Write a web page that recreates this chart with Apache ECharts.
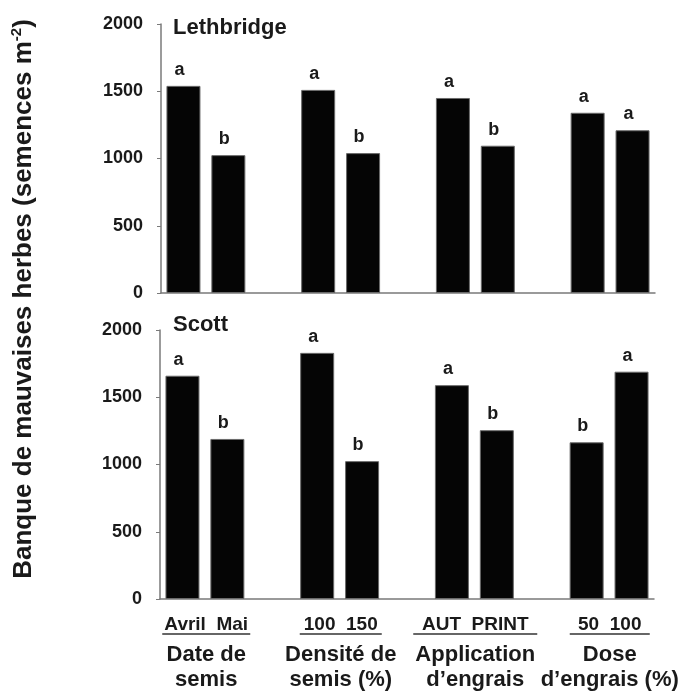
<!DOCTYPE html>
<html>
<head>
<meta charset="utf-8">
<script src="https://cdn.jsdelivr.net/npm/echarts@6/dist/echarts.min.js"></script>
<style>
html,body{margin:0;padding:0;background:#fff;}
#c{width:694px;height:692px;}
</style>
</head>
<body>
<div id="c"></div>
<script>
// ---- data ----
const pairs = [['Avril', 'Mai'], ['100', '150'], ['AUT', 'PRINT'], ['50', '100']];
const groups = [['Date de', 'semis'], ['Densité de', 'semis (%)'], ['Application', 'd’engrais'], ['Dose', 'd’engrais (%)']];
const lethbridgeValues = [1540, 1025, 1510, 1040, 1450, 1095, 1340, 1210];
const lethbridgeLetters = ['a', 'b', 'a', 'b', 'a', 'b', 'a', 'a'];
const scottValues = [1660, 1190, 1830, 1025, 1590, 1255, 1165, 1690];
const scottLetters = ['a', 'b', 'a', 'b', 'a', 'b', 'b', 'a'];
const panelTitles = ['Lethbridge', 'Scott'];
const yMin = 0, yMax = 2000, yStep = 500;
const yTitle = 'Banque de mauvaises herbes (semences m';
const yTitleSup = '-2';

// ---- build slot layout: two bars per group, a blank slot between groups ----
const slots = [];
const slotBar = [];
pairs.forEach((p, i) => {
  slots.push(p[0] + '#' + i, p[1] + '#' + i);
  slotBar.push(i * 2, i * 2 + 1);
  if (i < pairs.length - 1) { slots.push('gap' + i); slotBar.push(-1); }
});
function slotData(vals) {
  return slotBar.map(b => (b < 0 ? '-' : vals[b]));
}

const font = 'Liberation Sans, Arial, Helvetica, sans-serif';
const txt = '#1a1a1a';
const axisCol = '#7a7a7a';

const chart = echarts.init(document.getElementById('c'), null, { renderer: 'canvas' });

const underlineW = [88, 82, 124, 80];
const rich = {
  t: { fontFamily: font, fontWeight: 'bold', fontSize: 19, lineHeight: 16, color: txt },
  sp: { fontSize: 1, lineHeight: 7 },
  g: { fontFamily: font, fontWeight: 'bold', fontSize: 22, lineHeight: 25, color: txt }
};
underlineW.forEach((w, i) => {
  rich['u' + i] = { width: w, height: 1.5, lineHeight: 2, backgroundColor: '#333', fontSize: 1 };
});

function barGrid(idx) {
  return {
    type: 'bar',
    xAxisIndex: idx, yAxisIndex: idx,
    data: slotData(idx === 0 ? lethbridgeValues : scottValues),
    barWidth: 34,
    itemStyle: { color: '#050505', borderColor: '#6a6a6a', borderWidth: 1 },
    label: {
      show: true, position: 'top', distance: 7, offset: [-4, 0],
      fontFamily: font, fontWeight: 'bold', fontSize: 18, color: txt,
      formatter: p => {
        const b = slotBar[p.dataIndex];
        return b < 0 ? '' : (idx === 0 ? lethbridgeLetters : scottLetters)[b];
      }
    },
    silent: true,
    animation: false
  };
}

function yAx(idx) {
  return {
    gridIndex: idx, type: 'value', min: yMin, max: yMax, interval: yStep,
    axisLine: { show: true, lineStyle: { color: axisCol, width: 1.5 } },
    axisTick: { show: true, length: 4, lineStyle: { color: axisCol } },
    axisLabel: { fontFamily: font, fontWeight: 'bold', fontSize: 18, color: txt, margin: 18, formatter: v => String(v) },
    splitLine: { show: false }
  };
}
function xAx(idx) {
  return {
    gridIndex: idx, type: 'category', data: slots,
    axisLine: { show: true, lineStyle: { color: axisCol, width: 1.5 } },
    axisTick: { show: false }, axisLabel: { show: false }
  };
}

const option = {
  backgroundColor: '#fff',
  animation: false,
  title: [
    { text: panelTitles[0], left: 173, top: 17, padding: 0, textStyle: { fontFamily: font, fontWeight: 'bold', fontSize: 22, color: txt } },
    { text: panelTitles[1], left: 173, top: 314, padding: 0, textStyle: { fontFamily: font, fontWeight: 'bold', fontSize: 22, color: txt } }
  ],
  grid: [
    { left: 161, top: 24, width: 494, height: 269 },
    { left: 160, top: 330, width: 494, height: 269 },
    { left: 139, width: 538, top: 500, height: 110 }
  ],
  xAxis: [
    xAx(0), xAx(1),
    {
      gridIndex: 2, type: 'category', data: groups.map(g => g.join(' ')),
      axisLine: { show: false }, axisTick: { show: false },
      axisLabel: {
        interval: 0, margin: 7, hideOverlap: false,
        formatter: (v, i) => '{t|' + pairs[i].join('  ') + '}\n{u' + i + '| }\n{sp| }\n{g|' + groups[i][0] + '}\n{g|' + groups[i][1] + '}',
        rich: rich
      }
    }
  ],
  yAxis: [yAx(0), yAx(1), { gridIndex: 2, type: 'value', show: false }],
  series: [barGrid(0), barGrid(1)],
  graphic: [
    {
      type: 'text', x: 24, y: 299, rotation: Math.PI / 2,
      style: {
        text: '{m|' + yTitle + '}{s|' + yTitleSup + '}{m|)}',
        align: 'center', verticalAlign: 'middle',
        rich: {
          m: { fontFamily: font, fontWeight: 'bold', fontSize: 26, lineHeight: 30, fill: txt, color: txt },
          s: { fontFamily: font, fontWeight: 'bold', fontSize: 15, lineHeight: 16, verticalAlign: 'top', fill: txt, color: txt }
        }
      }
    }
  ]
};
chart.setOption(option);
</script>
</body>
</html>
